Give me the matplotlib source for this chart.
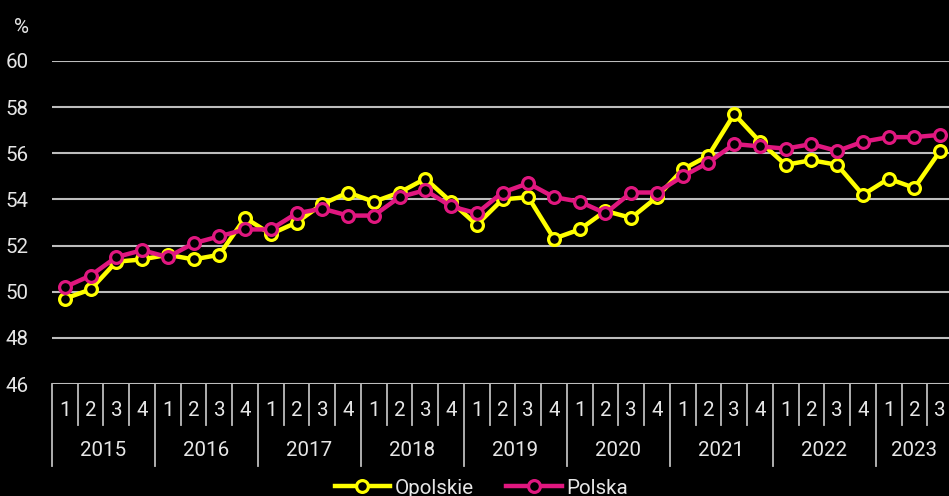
import matplotlib
matplotlib.use("Agg")
import matplotlib.pyplot as plt
from matplotlib.lines import Line2D

years = ["2015", "2016", "2017", "2018", "2019", "2020", "2021", "2022", "2023"]
quarters = ["1", "2", "3", "4"]
opolskie = [49.7, 50.1, 51.3, 51.4,
            51.6, 51.4, 51.6, 53.2,
            52.5, 53.0, 53.8, 54.3,
            53.9, 54.3, 54.9, 53.9,
            52.9, 54.0, 54.1, 52.3,
            52.7, 53.5, 53.2, 54.1,
            55.3, 55.9, 57.7, 56.5,
            55.5, 55.7, 55.5, 54.2,
            54.9, 54.5, 56.1]
polska = [50.2, 50.7, 51.5, 51.8,
          51.5, 52.1, 52.4, 52.7,
          52.7, 53.4, 53.6, 53.3,
          53.3, 54.1, 54.4, 53.7,
          53.4, 54.3, 54.7, 54.1,
          53.9, 53.4, 54.3, 54.3,
          55.0, 55.6, 56.4, 56.3,
          56.2, 56.4, 56.1, 56.5,
          56.7, 56.7, 56.8]
yticks = [46, 48, 50, 52, 54, 56, 58, 60]

plt.rcParams['font.family'] = ['Roboto', 'DejaVu Sans']
txt = '#e6e6e6'
grid = '#bdbdbd'
fs = 14.8

W, H = 949, 496
fig = plt.figure(figsize=(W / 100, H / 100), dpi=100, facecolor='black')
left, right, top, bottom = 52, 953, 61, 384
ax = fig.add_axes([left / W, (H - bottom) / H, (right - left) / W, (bottom - top) / H])
ax.set_facecolor('black')
n = len(opolskie)
ax.set_xlim(0, n)
ax.set_ylim(46, 60)
for s in ax.spines.values():
    s.set_visible(False)
ax.set_xticks([])
ax.set_yticks(yticks)
ax.tick_params(axis='y', length=0, pad=17, labelsize=fs, labelcolor=txt)
for v in yticks:
    ax.axhline(v, color=grid, lw=1.5, zorder=1)

xs = [i + 0.5 for i in range(n)]
lc = dict(lw=3.2, marker='o', markersize=8.5, markerfacecolor='black',
          markeredgewidth=2.3, zorder=3)
l1, = ax.plot(xs, opolskie, color='#ffff00', markeredgecolor='#ffff00', label='Opolskie', **lc)
l2, = ax.plot(xs, polska, color='#e0177f', markeredgecolor='#e0177f', label='Polska', **lc)

ax.text(-0.025, 1.105, '%', transform=ax.transAxes, ha='right', va='center',
        color=txt, fontsize=fs)

# category axis
tr = ax.get_xaxis_transform()
h = bottom - top
q_len = 41 / h
y_len = 82 / h
for i in range(n + 1):
    ln = y_len if i % 4 == 0 else q_len
    ax.add_line(Line2D([i, i], [0, -ln], transform=tr, color=grid, lw=1.3, clip_on=False))
for i in range(n):
    ax.text(i + 0.5, -26 / h, quarters[i % 4], transform=tr, ha='center', va='center',
            color=txt, fontsize=fs)
for k, y in enumerate(years):
    start = 4 * k
    end = min(4 * k + 4, n)
    ax.text((start + end) / 2, -67 / h, y, transform=tr, ha='center', va='center',
            color=txt, fontsize=fs)

leg = fig.legend(handles=[l1, l2], loc='center', bbox_to_anchor=(0.507, 8 / H), ncol=2,
                 frameon=False, fontsize=fs, handlelength=2.7, handletextpad=0.2,
                 columnspacing=1.6, labelcolor=txt)

fig.savefig('out.png', dpi=100, facecolor='black')
